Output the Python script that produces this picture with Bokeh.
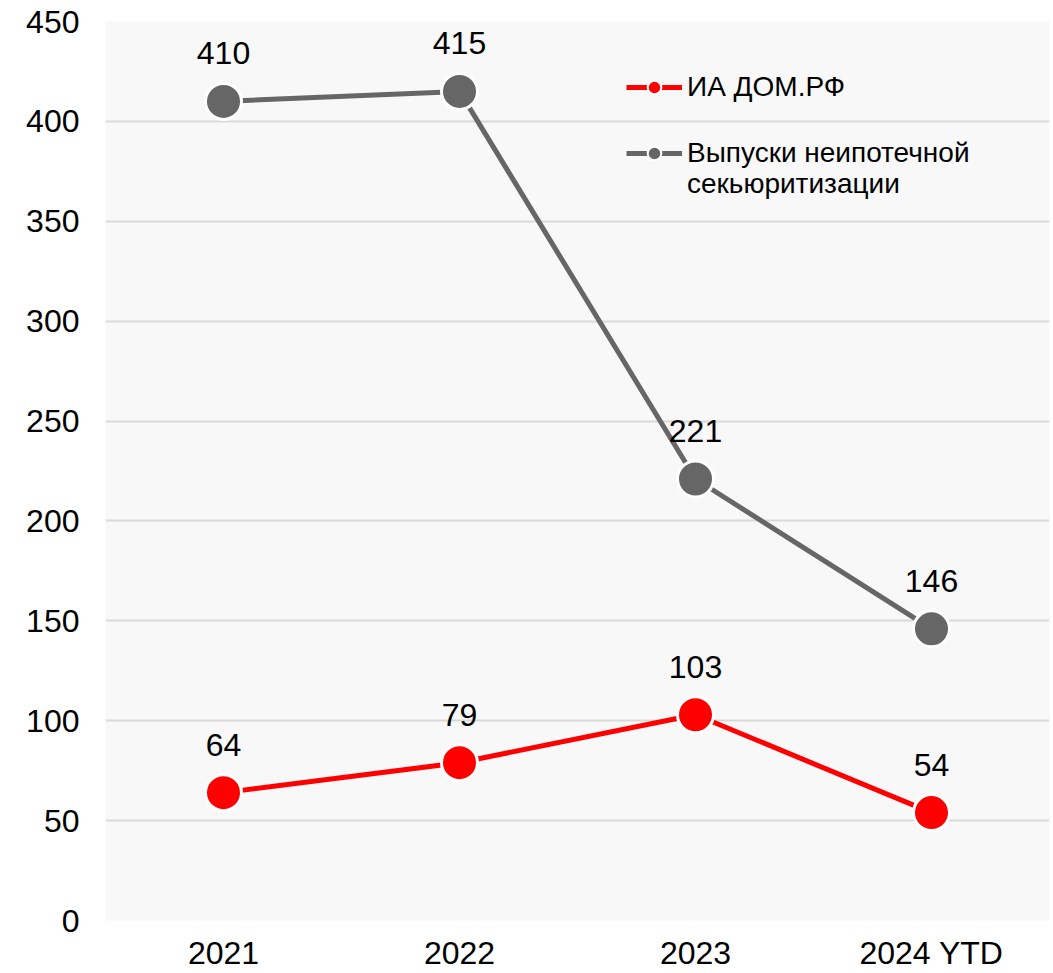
from bokeh.plotting import figure
from bokeh.models import FactorRange, Range1d, SingleIntervalTicker, Legend, LegendItem, ColumnDataSource, LabelSet
from bokeh.core.properties import value
from bokeh.embed import file_html
from bokeh.resources import INLINE

years = ["2021", "2022", "2023", "2024 YTD"]
dom_rf = [64, 79, 103, 54]
non_mortgage = [410, 415, 221, 146]
name_dom = "ИА ДОМ.РФ"
name_non_1 = "Выпуски неипотечной"
name_non_2 = "секьюритизации"

FONT = "Liberation Sans"
RED = "#ff0000"
GRAY = "#666666"

p = figure(width=1053, height=973, output_backend="svg", toolbar_location=None,
           x_range=FactorRange(*years, range_padding=0), y_range=Range1d(0, 450),
           min_border_left=105, min_border_right=4, min_border_top=21, min_border_bottom=53)
p.background_fill_color = "#f8f8f8"
p.border_fill_color = "white"
p.outline_line_color = None

p.yaxis.ticker = SingleIntervalTicker(interval=50)
for ax in (p.xaxis[0], p.yaxis[0]):
    ax.axis_line_color = None
    ax.major_tick_line_color = None
    ax.minor_tick_line_color = None
    ax.major_label_text_font = FONT
    ax.major_label_text_font_size = "32px"
    ax.major_label_text_color = "black"
p.yaxis.major_label_standoff = 20
p.xaxis.major_label_standoff = 8
p.xgrid.grid_line_color = None
p.ygrid.grid_line_color = "#d9d9d9"
p.ygrid.grid_line_width = 2

src = ColumnDataSource(dict(x=years, dom=dom_rf, non=non_mortgage,
                            dom_t=[str(v) for v in dom_rf], non_t=[str(v) for v in non_mortgage]))

p.line("x", "non", source=src, line_color=GRAY, line_width=5)
p.scatter("x", "non", source=src, size=36, fill_color=GRAY, line_color="white", line_width=3)
p.line("x", "dom", source=src, line_color=RED, line_width=5)
p.scatter("x", "dom", source=src, size=36, fill_color=RED, line_color="white", line_width=3)

for col, tcol in (("non", "non_t"), ("dom", "dom_t")):
    p.add_layout(LabelSet(x="x", y=col, text=tcol, source=src, text_align="center",
                          text_baseline="middle", y_offset=48, text_font=value(FONT),
                          text_font_size="32px", text_color="black"))

# legend glyphs (smaller markers), not drawn in the plot
lg1 = p.line("x", "dom", source=src, line_color=RED, line_width=5, visible=False)
lgs1 = p.scatter("x", "dom", source=src, size=14, fill_color=RED, line_color="white", line_width=2, visible=False)
lg2 = p.line("x", "non", source=src, line_color=GRAY, line_width=5, visible=False)
lgs2 = p.scatter("x", "non", source=src, size=14, fill_color=GRAY, line_color="white", line_width=2, visible=False)
lg3 = p.line("x", "non", source=src, line_alpha=0, visible=False)

common = dict(background_fill_alpha=0, border_line_color=None,
              label_text_font=FONT, label_text_font_size="28px", label_text_color="black",
              glyph_width=56, glyph_height=34, label_height=34, label_standoff=5,
              padding=6, margin=0)
legend_a = Legend(items=[LegendItem(label=name_dom, renderers=[lg1, lgs1]),
                         LegendItem(label=name_non_1, renderers=[lg2, lgs2])],
                  location=(521, 750), spacing=32, **common)
legend_b = Legend(items=[LegendItem(label=name_non_2, renderers=[lg3])],
                  location=(521, 719), spacing=0, **common)
p.add_layout(legend_a)
p.add_layout(legend_b)

open("out.html", "w").write(file_html(p, INLINE))
